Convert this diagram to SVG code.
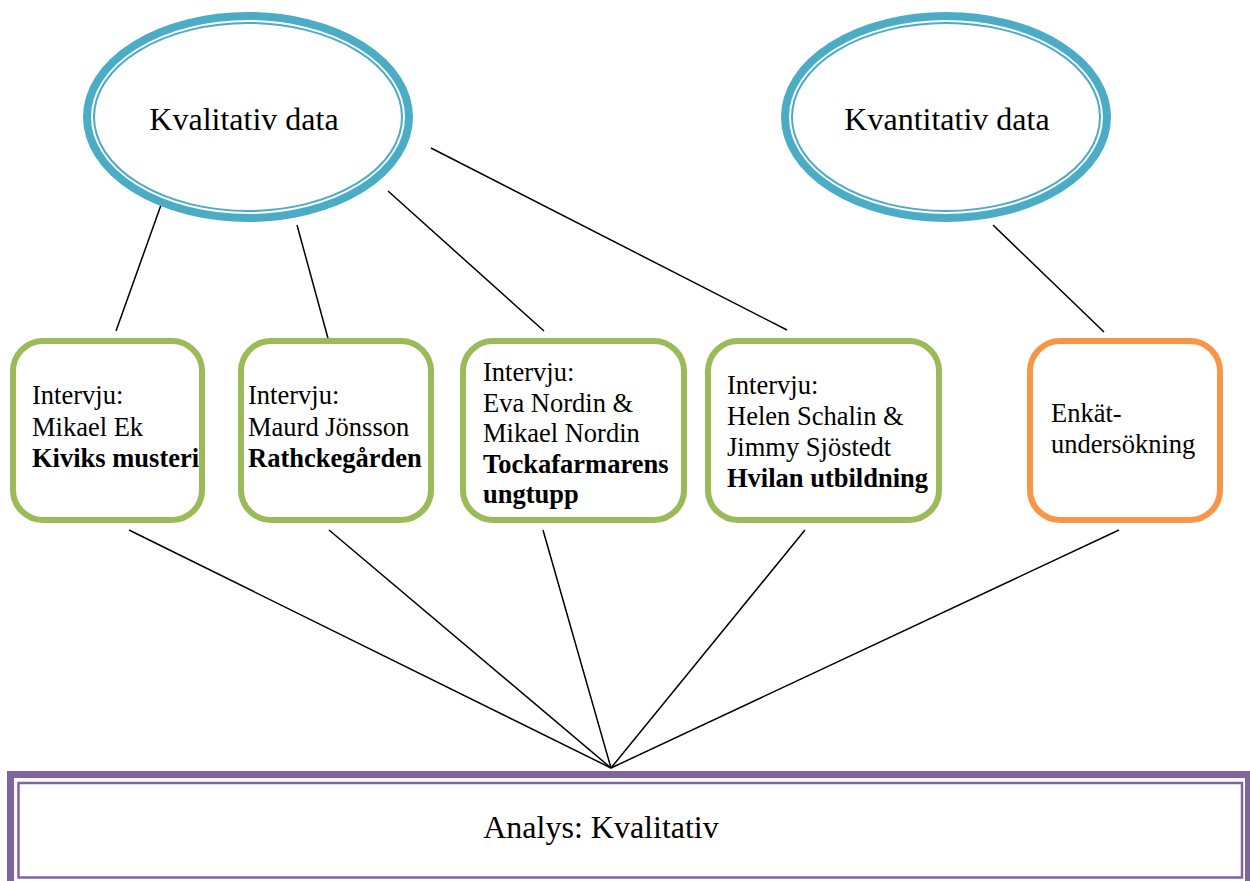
<svg xmlns="http://www.w3.org/2000/svg" width="1250" height="881" viewBox="0 0 1250 881">
<style>
.ell-o{fill:none;stroke:#4BACC6;stroke-width:8}
.ell-i{fill:none;stroke:#4BACC6;stroke-width:2}
.t{font-family:"Liberation Serif","Times New Roman",serif;fill:#000}
.title{font-size:32px}
.bt{font-size:26.5px}
.b{font-weight:bold}
.green{fill:#fff;stroke:#9BBB59;stroke-width:6}
.orange{fill:#fff;stroke:#F79646;stroke-width:6}
.conn line{stroke:#000;stroke-width:1.5}
</style>
<rect width="1250" height="881" fill="#fff"/>
<g class="conn" id="connectors">
<line x1="161" y1="205" x2="116" y2="331"/>
<line x1="297" y1="225" x2="329" y2="342"/>
<line x1="388" y1="191" x2="544" y2="331"/>
<line x1="431" y1="148" x2="787" y2="330"/>
<line x1="993" y1="225" x2="1104" y2="332"/>
<line x1="129" y1="530" x2="611" y2="768"/>
<line x1="329" y1="530" x2="611" y2="768"/>
<line x1="543" y1="530" x2="611" y2="768"/>
<line x1="805" y1="530" x2="611" y2="768"/>
<line x1="1119" y1="530" x2="611" y2="768"/>
</g>
<g id="kvalitativ">
<ellipse class="ell-o" cx="248" cy="117" rx="161" ry="101"/>
<ellipse class="ell-i" cx="248" cy="117" rx="154" ry="94"/>
<text class="t title" x="244" y="130" text-anchor="middle">Kvalitativ data</text>
</g>
<g id="kvantitativ">
<ellipse class="ell-o" cx="946" cy="117" rx="161" ry="101"/>
<ellipse class="ell-i" cx="946" cy="117" rx="154" ry="94"/>
<text class="t title" x="947" y="130" text-anchor="middle">Kvantitativ data</text>
</g>
<g id="box1">
<rect class="green" x="13" y="341" width="189" height="179" rx="30"/>
<text class="t bt" x="32" y="404">Intervju:</text>
<text class="t bt" x="32" y="436">Mikael Ek</text>
<text class="t bt b" x="32" y="467">Kiviks musteri</text>
</g>
<g id="box2">
<rect class="green" x="241" y="341" width="190" height="179" rx="30"/>
<text class="t bt" x="248" y="404">Intervju:</text>
<text class="t bt" x="248" y="436">Maurd Jönsson</text>
<text class="t bt b" x="248" y="467">Rathckegården</text>
</g>
<g id="box3">
<rect class="green" x="463" y="341" width="221" height="179" rx="30"/>
<text class="t bt" x="483" y="381">Intervju:</text>
<text class="t bt" x="483" y="412">Eva Nordin &amp;</text>
<text class="t bt" x="483" y="442">Mikael Nordin</text>
<text class="t bt b" x="483" y="473">Tockafarmarens</text>
<text class="t bt b" x="483" y="503">ungtupp</text>
</g>
<g id="box4">
<rect class="green" x="708" y="341" width="231" height="179" rx="30"/>
<text class="t bt" x="727" y="394">Intervju:</text>
<text class="t bt" x="727" y="425">Helen Schalin &amp;</text>
<text class="t bt" x="727" y="456">Jimmy Sjöstedt</text>
<text class="t bt b" x="727" y="487">Hvilan utbildning</text>
</g>
<g id="box5">
<rect class="orange" x="1030" y="341" width="190" height="179" rx="30"/>
<text class="t bt" x="1051" y="422">Enkät-</text>
<text class="t bt" x="1051" y="453">undersökning</text>
</g>
<g id="analys">
<rect x="10.5" y="774.5" width="1238" height="130" fill="#fff" stroke="#8064A2" stroke-width="7"/>
<rect x="18.5" y="783" width="1223.5" height="94.5" fill="none" stroke="#8064A2" stroke-width="2.5"/>
<text class="t title" x="601" y="838" text-anchor="middle">Analys: Kvalitativ</text>
</g>
</svg>
